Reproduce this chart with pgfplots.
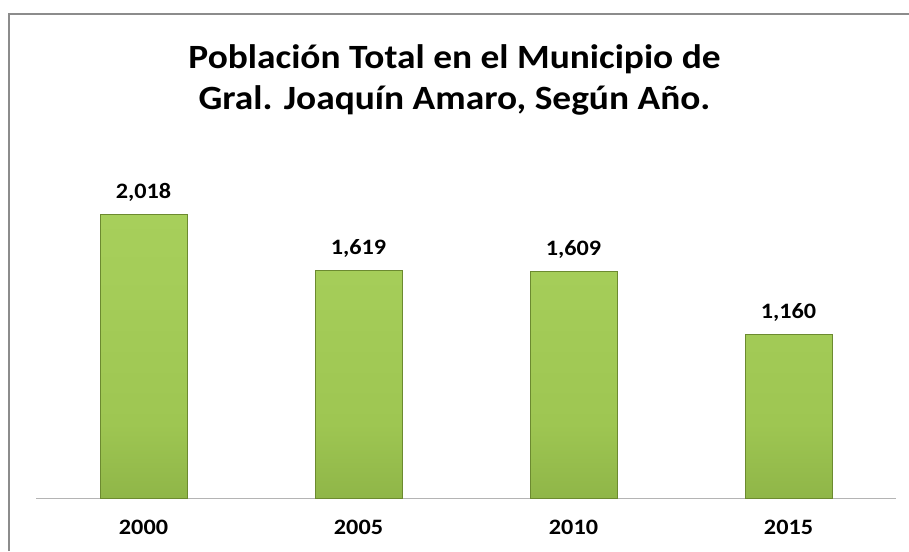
\documentclass[border=0pt]{standalone}
\usepackage{pgfplots}
\pgfplotsset{compat=1.18}
\usepackage{fontspec}
\setmainfont[FakeStretch=1.1]{Carlito}
\definecolor{baredge}{RGB}{108,138,48}
\pgfdeclareverticalshading{barshade}{100bp}{
  color(0bp)=(rgb,255:red,118;green,150;blue,54);
  color(22bp)=(rgb,255:red,140;green,178;blue,70);
  color(38bp)=(rgb,255:red,158;green,198;blue,82);
  color(60bp)=(rgb,255:red,164;green,204;blue,88);
  color(100bp)=(rgb,255:red,172;green,212;blue,96)}
\begin{document}
\begin{tikzpicture}[x=1pt,y=1pt]
\useasboundingbox (0,0) rectangle (909,551);
\draw[color={rgb,255:red,140;green,140;blue,140}, line width=1.5pt] (9,0) -- (9,537) -- (909,537);
\node[anchor=base, align=center, font=\fontsize{34}{41}\selectfont\bfseries] at (454.5,441) {Población Total en el Municipio de\\Gral. Joaquín Amaro, Según Año.};
\begin{axis}[
  at={(143.5pt,53pt)}, anchor=origin,
  scale only axis,
  width=860pt, height=309.5pt,
  xmin=-0.5, xmax=3.5, ymin=0, ymax=2200,
  axis x line*=bottom,
  x axis line style={-, color={rgb,255:red,180;green,180;blue,180}, line width=1pt},
  hide y axis,
  xtick=data,
  xticklabels={2000,2005,2010,2015},
  major tick length=0pt,
  xticklabel style={anchor=base, yshift=-36pt, font=\fontsize{22}{26}\selectfont\bfseries},
  /pgf/number format/assume math mode=true,
  clip=false,
  ybar, bar width=87pt,
  nodes near coords={\pgfmathprintnumber[1000 sep={,}]{\pgfplotspointmeta}},
  every node near coord/.append style={anchor=base, yshift=16pt, inner sep=0pt, font=\fontsize{22}{26}\selectfont\bfseries},
]
\addplot[draw=baredge, shading=barshade, line width=0.8pt] coordinates {(0,2018) (1,1619) (2,1609) (3,1160)};
\end{axis}
\end{tikzpicture}
\end{document}
